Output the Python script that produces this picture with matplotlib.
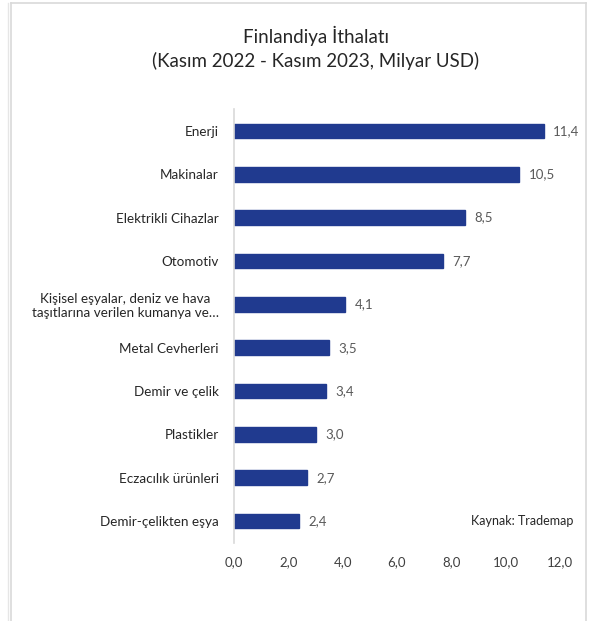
import matplotlib
matplotlib.use("Agg")
import matplotlib.pyplot as plt
from matplotlib.lines import Line2D

categories = [
    "Enerji",
    "Makinalar",
    "Elektrikli Cihazlar",
    "Otomotiv",
    "Kişisel eşyalar, deniz ve hava\ntaşıtlarına verilen kumanya ve…",
    "Metal Cevherleri",
    "Demir ve çelik",
    "Plastikler",
    "Eczacılık ürünleri",
    "Demir-çelikten eşya",
]
values = [11.4, 10.5, 8.5, 7.7, 4.1, 3.5, 3.4, 3.0, 2.7, 2.4]
xticks = [0, 2, 4, 6, 8, 10, 12]

plt.rcParams['font.family'] = ['Lato', 'DejaVu Sans']

fig = plt.figure(figsize=(6.01, 6.21), dpi=100)
ax = fig.add_axes([234/601, 1-542.7/621, (560-234)/601, (542.7-109.3)/621])

ypos = list(range(len(categories)))
ax.barh(ypos, values, height=0.34, color='#203A8F', edgecolor='#203A8F')
ax.set_ylim(len(categories)-0.5, -0.5)
ax.set_xlim(0, 12)
ax.set_yticks(ypos)
ax.set_yticklabels(categories, fontsize=9.7, color='#262626', multialignment='center')
ax.set_xticks(xticks)
ax.set_xticklabels([f"{t:.1f}".replace('.', ',') for t in xticks], fontsize=9.5, color='#404040')
ax.tick_params(axis='both', length=0)
ax.tick_params(axis='y', pad=11)
ax.tick_params(axis='x', pad=10)
for s in ['top', 'right', 'bottom']:
    ax.spines[s].set_visible(False)
ax.spines['left'].set_color('#d9d9d9')
ax.spines['left'].set_linewidth(1.2)

for y, v in zip(ypos, values):
    ax.text(v + 0.35, y, f"{v:.1f}".replace('.', ','), va='center', ha='left',
            fontsize=9.5, color='#595959')

fig.text(573/601, 1-521/621, "Kaynak: Trademap", ha='right', va='center', fontsize=9, color='#262626')

fig.text(316/601, 1-36/621, "Finlandiya İthalatı", ha='center', va='center', fontsize=13.5, color='#262626')
fig.text(316/601, 1-61/621, "(Kasım 2022 - Kasım 2023, Milyar USD)", ha='center', va='center', fontsize=13.5, color='#262626')

# chart frame
bc = '#d9d9d9'
fig.add_artist(Line2D([11/601, 586/601], [1-3/621, 1-3/621], color=bc, lw=1.2))
fig.add_artist(Line2D([11/601, 11/601], [0, 1-3/621], color=bc, lw=1.2))
fig.add_artist(Line2D([586/601, 586/601], [0, 1-3/621], color=bc, lw=1.2))
fig.add_artist(Line2D([8/601, 8/601], [0, 1-3/621], color='#e6e6e6', lw=1.0))

fig.savefig("out.png", dpi=100)
